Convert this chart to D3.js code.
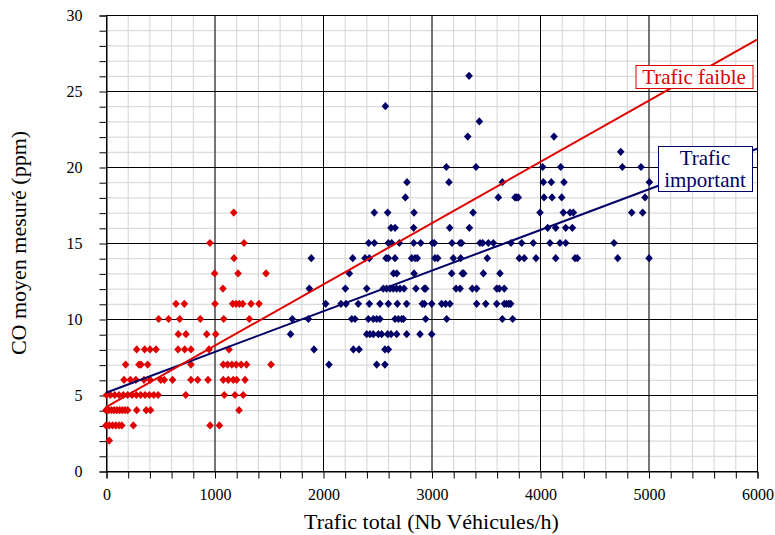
<!DOCTYPE html>
<html>
<head>
<meta charset="utf-8">
<script src="https://cdn.jsdelivr.net/npm/d3@7"></script>
<style>
  body { margin: 0; background: #fff; }
  svg { display: block; }
  text { font-family: "Liberation Serif", "Times New Roman", serif; }
</style>
</head>
<body>
<svg id="chart" width="775" height="535"></svg>
<script>
// Axis ticks
const xTicks = [0, 1000, 2000, 3000, 4000, 5000, 6000];
const yTicks = [0, 5, 10, 15, 20, 25, 30];

// Low-traffic measurements: [CO ppm, traffic values (veh/h) at that level]
const faibleRows = [
  [2,  [30]],
  [3,  [0, 30, 60, 90, 120, 145, 252, 959, 1045]],
  [4,  [0, 25, 50, 75, 100, 125, 150, 175, 200, 283, 370, 410, 1226]],
  [5,  [5, 40, 80, 120, 160, 200, 240, 280, 320, 360, 400, 440, 480, 735, 1090, 1189, 1265]],
  [6,  [166, 224, 275, 350, 406, 505, 537, 613, 783, 845, 940, 1081, 1127, 1173, 1204, 1281]],
  [7,  [181, 304, 323, 384, 783, 1081, 1120, 1160, 1200, 1245, 1295, 1521]],
  [8,  [283, 356, 406, 461, 664, 725, 783, 949, 1134]],
  [9,  [667, 737, 928, 1011]],
  [10, [485, 577, 679, 869, 1085, 1321]],
  [11, [645, 722, 1005, 1168, 1198, 1229, 1260, 1337, 1410]],
  [12, [1078]],
  [13, [1001, 1217, 1475]],
  [14, [1180]],
  [15, [958, 1272]],
  [17, [1177]]
];

// High-traffic measurements: [CO ppm, traffic values (veh/h) at that level]
const importantRows = [
  [7,  [2055, 2495, 2571]],
  [8,  [1917, 2280, 2332, 2571, 2602]],
  [9,  [1701, 2403, 2433, 2464, 2510, 2541, 2596, 2627, 2679, 2771, 2894, 3002]],
  [10, [1717, 1865, 2265, 2295, 2418, 2464, 2495, 2525, 2664, 2695, 2726, 2741, 2946, 3140, 3653, 3748]],
  [11, [2025, 2166, 2212, 2325, 2427, 2525, 2602, 2685, 2771, 2916, 2934, 3002, 3094, 3130, 3170, 3416, 3500, 3601, 3671, 3693, 3714, 3730]],
  [12, [1874, 2206, 2403, 2556, 2586, 2618, 2648, 2678, 2710, 2747, 2857, 2934, 2946, 3226, 3263, 3376, 3416, 3601, 3625, 3671]],
  [13, [2243, 2650, 2680, 2839, 3186, 3284, 3297, 3478, 3631]],
  [14, [1892, 2274, 2387, 2427, 2581, 2602, 2664, 2817, 2848, 2869, 3032, 3057, 3201, 3269, 3514, 3809, 3855, 3963, 4145, 4323, 4344, 4716, 5005]],
  [15, [2421, 2473, 2602, 2633, 2703, 2836, 2901, 3008, 3026, 3189, 3263, 3278, 3447, 3472, 3524, 3570, 3733, 3831, 3938, 4092, 4184, 4237, 4682]],
  [16, [2627, 2664, 2835, 3168, 3349, 4071, 4145, 4237, 4298]],
  [17, [2473, 2596, 2839, 3383, 4000, 4215, 4277, 4307, 4845, 4946]],
  [18, [2759, 3616, 3770, 3785, 3800, 4037, 4111, 4200, 4968]],
  [19, [2774, 3161, 3653, 4031, 4104, 4221, 5008]],
  [20, [3137, 3410, 4025, 4191, 4759, 4931]],
  [21, [4744]],
  [22, [3334, 4129]],
  [23, [3441]],
  [24, [2575]],
  [26, [3346]]
];

// Linear fits drawn over each group
const faibleFit = { intercept: 4.2, slope: 0.00403 };
const importantFit = { intercept: 5.15, slope: 0.002675 };

const RED = "#e00000";
const NAVY = "#000066";

const svg = d3.select("#chart");
const plotL = 106, plotR = 757, plotT = 15, plotB = 471;

const x = d3.scaleLinear().domain([0, 6000]).range([plotL, plotR]);
const y = d3.scaleLinear().domain([0, 30]).range([plotB, plotT]);

const toPoints = rows => rows.flatMap(([co, xs]) => xs.map(t => ({ t, co })));

// Minor grid
const grid = svg.append("g");
grid.selectAll(".vmin").data(d3.range(0, 6001, 200)).join("line")
  .attr("x1", d => x(d) + 0.5).attr("x2", d => x(d) + 0.5)
  .attr("y1", plotT).attr("y2", plotB)
  .attr("stroke", "#d3d3d3").attr("stroke-width", 1);
grid.selectAll(".hmin").data(d3.range(0, 31, 1)).join("line")
  .attr("x1", plotL).attr("x2", plotR)
  .attr("y1", d => y(d) + 0.5).attr("y2", d => y(d) + 0.5)
  .attr("stroke", "#d3d3d3").attr("stroke-width", 1);

// Major grid
grid.selectAll(".vmaj").data(xTicks).join("line")
  .attr("x1", d => x(d) + 0.5).attr("x2", d => x(d) + 0.5)
  .attr("y1", plotT).attr("y2", plotB)
  .attr("stroke", "#000").attr("stroke-width", 1);
grid.selectAll(".hmaj").data(yTicks).join("line")
  .attr("x1", plotL).attr("x2", plotR)
  .attr("y1", d => y(d) + 0.5).attr("y2", d => y(d) + 0.5)
  .attr("stroke", "#000").attr("stroke-width", 1);

// Plot frame
svg.append("rect")
  .attr("x", plotL + 0.5).attr("y", plotT + 0.5)
  .attr("width", plotR - plotL).attr("height", plotB - plotT)
  .attr("fill", "none").attr("stroke", "#000").attr("stroke-width", 1);

// Axes
const yAxis = d3.axisLeft(y)
  .tickValues(d3.range(0, 31, 1))
  .tickSize(7)
  .tickPadding(17)
  .tickFormat(d => (yTicks.includes(d) ? d : ""));
const gy = svg.append("g").attr("transform", `translate(${plotL + 0.5},0.5)`).call(yAxis);
gy.select(".domain").attr("stroke", "#000");
gy.selectAll("text").attr("font-size", 16).attr("fill", "#000")
  .style("font-family", '"Liberation Serif", "Times New Roman", serif');

const xAxis = d3.axisBottom(x)
  .tickValues(d3.range(0, 6001, 200))
  .tickSize(7)
  .tickPadding(10)
  .tickFormat(d => (xTicks.includes(d) ? d : ""));
const gx = svg.append("g").attr("transform", `translate(0.5,${plotB + 0.5})`).call(xAxis);
gx.select(".domain").attr("stroke", "#000");
gx.selectAll("text").attr("font-size", 16).attr("fill", "#000")
  .style("font-family", '"Liberation Serif", "Times New Roman", serif');

// Axis titles
svg.append("text")
  .attr("x", (plotL + plotR) / 2).attr("y", 529)
  .attr("text-anchor", "middle").attr("font-size", 22)
  .text("Trafic total (Nb Véhicules/h)");
svg.append("text")
  .attr("transform", `translate(26,${(plotT + plotB) / 2}) rotate(-90)`)
  .attr("text-anchor", "middle").attr("font-size", 22)
  .text("CO moyen mesuré (ppm)");

// Markers: small square-ish diamonds
const diamondShape = {
  draw(ctx) {
    const w = 3.8, h = 4.1;
    ctx.moveTo(0, -h); ctx.lineTo(w, 0); ctx.lineTo(0, h); ctx.lineTo(-w, 0); ctx.closePath();
  }
};
const diamond = d3.symbol().type(diamondShape);
const plot = svg.append("g");
plot.selectAll(".pf").data(toPoints(faibleRows)).join("path")
  .attr("d", diamond)
  .attr("transform", d => `translate(${x(d.t)},${y(d.co)})`)
  .attr("fill", RED);
plot.selectAll(".pi").data(toPoints(importantRows)).join("path")
  .attr("d", diamond)
  .attr("transform", d => `translate(${x(d.t)},${y(d.co)})`)
  .attr("fill", NAVY);

// Regression lines
const fitLine = fit => [0, 6000].map(t => [x(t), y(fit.intercept + fit.slope * t)]);
svg.append("path").attr("d", d3.line()(fitLine(importantFit)))
  .attr("stroke", NAVY).attr("stroke-width", 2).attr("fill", "none");
svg.append("path").attr("d", d3.line()(fitLine(faibleFit)))
  .attr("stroke", RED).attr("stroke-width", 2).attr("fill", "none");

// Line labels
function label(lines, color, cx, cy, w, h) {
  const g = svg.append("g");
  g.append("rect")
    .attr("x", cx - w / 2 + 0.5).attr("y", cy - h / 2 + 0.5)
    .attr("width", w).attr("height", h)
    .attr("fill", "#fff").attr("stroke", color).attr("stroke-width", 1);
  const lh = 22;
  lines.forEach((s, i) => {
    g.append("text")
      .attr("x", cx).attr("y", cy + (i - (lines.length - 1) / 2) * lh)
      .attr("dy", "0.35em")
      .attr("text-anchor", "middle").attr("font-size", 21)
      .attr("fill", color).text(s);
  });
}
label(["Trafic faible"], RED, 694, 76.5, 117, 23);
label(["Trafic", "important"], NAVY, 705, 168.5, 94, 45);
</script>
</body>
</html>
